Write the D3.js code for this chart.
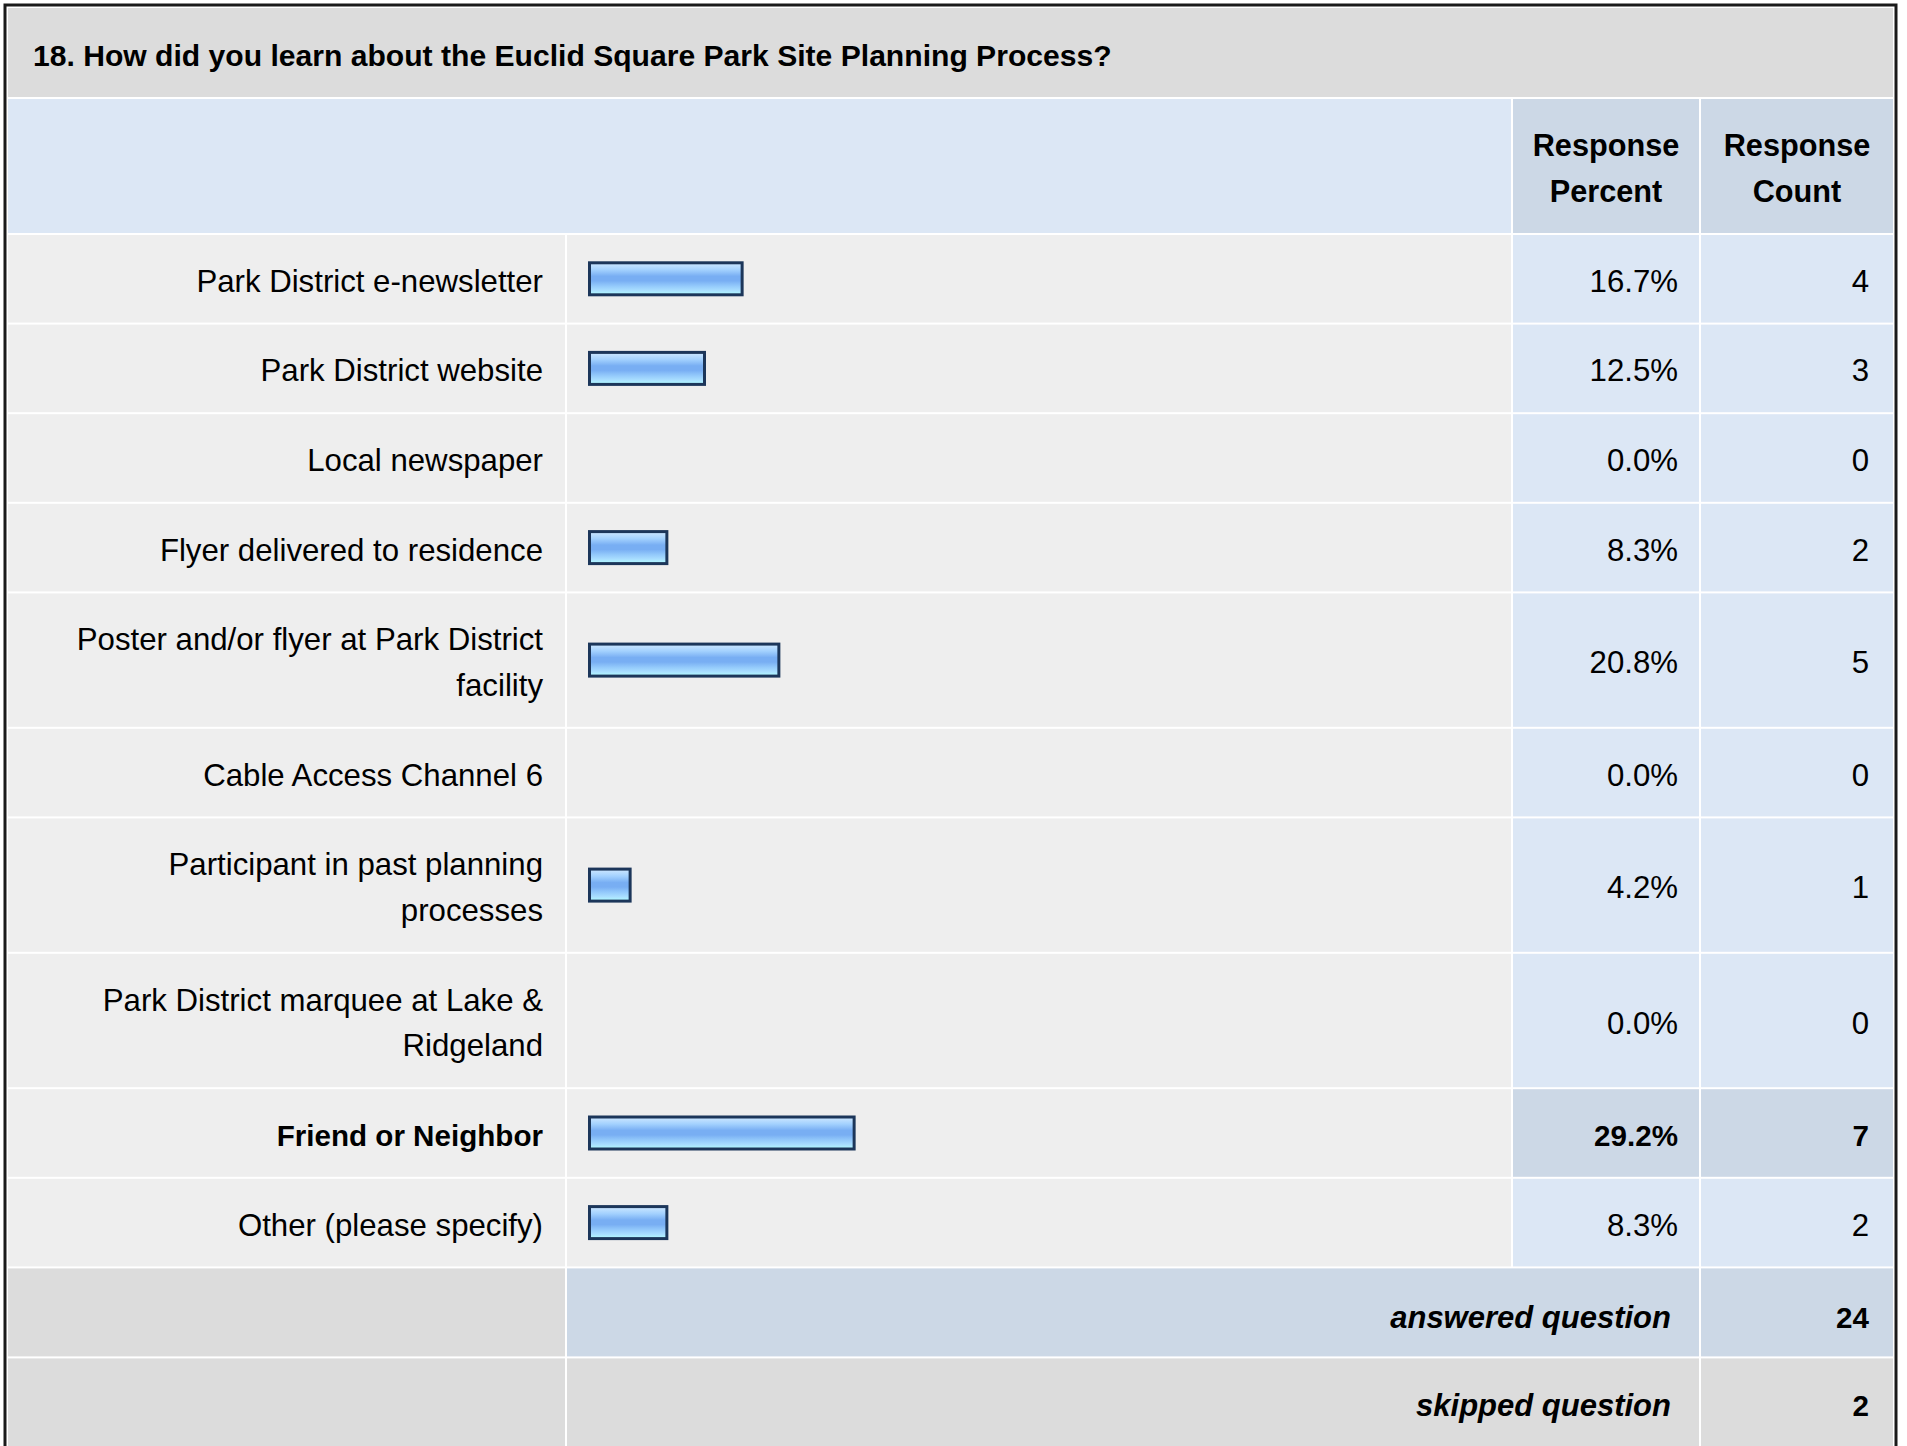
<!DOCTYPE html>
<html>
<head>
<meta charset="utf-8">
<script src="https://cdn.jsdelivr.net/npm/d3@7"></script>
<style>
    body { margin: 0; background: #ffffff; }
    text { font-family: 'Liberation Sans', Arial, Helvetica, sans-serif; fill: #000; }
    .title { font-weight: bold; font-size: 30.1px; }
    .head { font-weight: bold; font-size: 30.7px; }
    .cell { font-size: 31.2px; }
    .bold { font-weight: bold; font-size: 29.6px; }
    .total { font-weight: bold; font-style: italic; font-size: 31px; }
</style>
</head>
<body>
<div id="vis"></div>
<script>
// Survey question and answers
var questionTitle = '18. How did you learn about the Euclid Square Park Site Planning Process?';
var answerLabels = [
    'Park District e-newsletter',
    'Park District website',
    'Local newspaper',
    'Flyer delivered to residence',
    'Poster and/or flyer at Park District facility',
    'Cable Access Channel 6',
    'Participant in past planning processes',
    'Park District marquee at Lake & Ridgeland',
    'Friend or Neighbor',
    'Other (please specify)'
];
var responsePercent = [16.7, 12.5, 0.0, 8.3, 20.8, 0.0, 4.2, 0.0, 29.2, 8.3];
var responseCount = [4, 3, 0, 2, 5, 0, 1, 0, 7, 2];
var headerLines = [['Response', 'Percent'], ['Response', 'Count']];
var summaryLabels = ['answered question', 'skipped question'];
var summaryCounts = [24, 2];

(function() {
    var width = 1907;
    var height = 1446;

    // column edges of the table
    var left = 8, right = 1893;
    var colLabel = 565, colBar = 1511, colPct = 1699;
    var gap = 2;
    var titleTop = 8, titleBottom = 97;
    var headTop = 99, headBottom = 233;
    var lineH = 45.8, padV = 43.8;
    var wrapWidth = 515;
    var textOff = 13;

    var svg = d3.select('#vis')
        .append('svg')
        .attr('width', width)
        .attr('height', height);

    // gradient for bars
    var grad = svg.append('defs').append('linearGradient')
        .attr('id', 'barGrad')
        .attr('x1', 0).attr('y1', 0).attr('x2', 0).attr('y2', 1);
    [['0%', '#cfe8ff'], ['22%', '#a3d1fe'], ['42%', '#78aef3'], ['56%', '#78aef3'],
     ['72%', '#93c9fb'], ['86%', '#a9deff'], ['100%', '#b2ffff']].forEach(function(s) {
        grad.append('stop').attr('offset', s[0]).attr('stop-color', s[1]);
    });

    // title band
    svg.append('rect')
        .attr('x', left).attr('y', titleTop)
        .attr('width', right - left).attr('height', titleBottom - titleTop)
        .attr('fill', '#dcdcdc');
    svg.append('text')
        .attr('class', 'title')
        .attr('x', 33).attr('y', 66)
        .text(questionTitle);

    // header row
    svg.append('rect')
        .attr('x', left).attr('y', headTop)
        .attr('width', colBar - left).attr('height', headBottom - headTop)
        .attr('fill', '#dce7f5');
    var headCols = [[colBar + gap, colPct], [colPct + gap, right]];
    headCols.forEach(function(c, i) {
        svg.append('rect')
            .attr('x', c[0]).attr('y', headTop)
            .attr('width', c[1] - c[0]).attr('height', headBottom - headTop)
            .attr('fill', '#ccd8e6');
        headerLines[i].forEach(function(line, j) {
            svg.append('text')
                .attr('class', 'head')
                .attr('x', (c[0] + c[1]) / 2)
                .attr('y', 156 + j * 46)
                .attr('text-anchor', 'middle')
                .text(line);
        });
    });

    // wrap labels into lines by measuring them
    var measure = svg.append('text').attr('class', 'cell');
    var wrapped = answerLabels.map(function(label) {
        var words = label.split(' ');
        var lines = [];
        var cur = '';
        words.forEach(function(w) {
            var test = cur ? cur + ' ' + w : w;
            measure.text(test);
            if (measure.node().getComputedTextLength() > wrapWidth && cur) {
                lines.push(cur);
                cur = w;
            } else {
                cur = test;
            }
        });
        lines.push(cur);
        return lines;
    });
    measure.remove();

    // row positions
    var rows = [];
    var y = headBottom + gap;
    wrapped.forEach(function(lines, i) {
        var h = padV + lines.length * lineH;
        rows.push({ y0: y, y1: y + h - gap, lines: lines, pct: responsePercent[i], count: responseCount[i] });
        y += h;
    });

    var maxCount = d3.max(responseCount);

    // bar scale (bars carry a small base width for their frame)
    var barLeft = 588;
    var barH = 35;
    var xScale = d3.scaleLinear().domain([0, 100]).range([0, 896]);

    var g = svg.append('g');
    var rowG = g.selectAll('g.row').data(rows).enter().append('g').attr('class', 'row');

    rowG.append('rect')
        .attr('x', left).attr('y', function(d) { return d.y0; })
        .attr('width', colLabel - left).attr('height', function(d) { return d.y1 - d.y0; })
        .attr('fill', '#eeeeee');
    rowG.append('rect')
        .attr('x', colLabel + gap).attr('y', function(d) { return d.y0; })
        .attr('width', colBar - colLabel - gap).attr('height', function(d) { return d.y1 - d.y0; })
        .attr('fill', '#eeeeee');
    rowG.append('rect')
        .attr('x', colBar + gap).attr('y', function(d) { return d.y0; })
        .attr('width', colPct - colBar - gap).attr('height', function(d) { return d.y1 - d.y0; })
        .attr('fill', function(d) { return d.count === maxCount ? '#ccd8e6' : '#dce7f5'; });
    rowG.append('rect')
        .attr('x', colPct + gap).attr('y', function(d) { return d.y0; })
        .attr('width', right - colPct - gap).attr('height', function(d) { return d.y1 - d.y0; })
        .attr('fill', function(d) { return d.count === maxCount ? '#ccd8e6' : '#dce7f5'; });

    // labels
    rowG.each(function(d) {
        var el = d3.select(this);
        var mid = (d.y0 + d.y1) / 2;
        var first = mid - (d.lines.length - 1) * lineH / 2;
        d.lines.forEach(function(line, j) {
            el.append('text')
                .attr('class', 'cell' + (d.count === maxCount ? ' bold' : ''))
                .attr('x', 543)
                .attr('y', first + j * lineH + textOff)
                .attr('text-anchor', 'end')
                .text(line);
        });
    });

    // bars
    rowG.filter(function(d) { return d.pct > 0; })
        .append('rect')
        .attr('x', barLeft + 1.5)
        .attr('y', function(d) { return (d.y0 + d.y1) / 2 - barH / 2 + 1.5; })
        .attr('width', function(d) { return xScale(d.pct) + 6 - 3; })
        .attr('height', barH - 3)
        .attr('fill', 'url(#barGrad)')
        .attr('stroke', '#1c365a')
        .attr('stroke-width', 3);

    // percent and count values
    rowG.append('text')
        .attr('class', function(d) { return 'cell' + (d.count === maxCount ? ' bold' : ''); })
        .attr('x', 1678)
        .attr('y', function(d) { return (d.y0 + d.y1) / 2 + textOff; })
        .attr('text-anchor', 'end')
        .text(function(d) { return d.pct.toFixed(1) + '%'; });
    rowG.append('text')
        .attr('class', function(d) { return 'cell' + (d.count === maxCount ? ' bold' : ''); })
        .attr('x', 1869)
        .attr('y', function(d) { return (d.y0 + d.y1) / 2 + textOff; })
        .attr('text-anchor', 'end')
        .text(function(d) { return d.count; });

    // summary rows
    var sumH = 90;
    summaryLabels.forEach(function(label, i) {
        var y0 = y + i * sumH;
        var y1 = y0 + sumH - gap;
        var fillMid = i === 0 ? '#ccd8e6' : '#dcdcdc';
        svg.append('rect').attr('x', left).attr('y', y0)
            .attr('width', colLabel - left).attr('height', y1 - y0).attr('fill', '#dcdcdc');
        svg.append('rect').attr('x', colLabel + gap).attr('y', y0)
            .attr('width', colPct - colLabel - gap).attr('height', y1 - y0).attr('fill', fillMid);
        svg.append('rect').attr('x', colPct + gap).attr('y', y0)
            .attr('width', right - colPct - gap).attr('height', y1 - y0).attr('fill', fillMid);
        svg.append('text').attr('class', 'total')
            .attr('x', 1671).attr('y', (y0 + y1) / 2 + 16 - i * 2)
            .attr('text-anchor', 'end').text(label);
        svg.append('text').attr('class', 'cell bold')
            .attr('x', 1869).attr('y', (y0 + y1) / 2 + 16 - i * 2)
            .attr('text-anchor', 'end').text(summaryCounts[i]);
    });

    // outer frame
    svg.append('rect')
        .attr('x', 5).attr('y', 5)
        .attr('width', 1891).attr('height', height + 20)
        .attr('fill', 'none')
        .attr('stroke', '#1a1a1a')
        .attr('stroke-width', 3);
})();
</script>
</body>
</html>
